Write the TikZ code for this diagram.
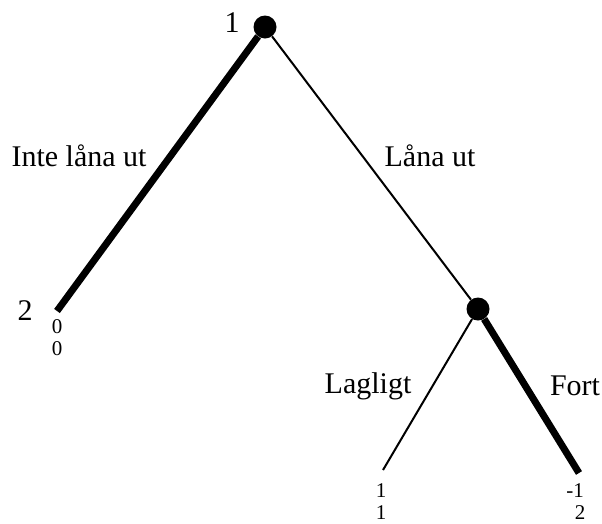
\documentclass[tikz,border=0pt]{standalone}
\usepackage{fontspec}
\setmainfont{Liberation Serif}
\usetikzlibrary{positioning}

\begin{document}
\begin{tikzpicture}[x=1pt,y=-1pt]
\useasboundingbox (0,0) rectangle (602,523);
\begin{scope}[every node/.style={circle,fill=black,inner sep=0pt,minimum size=23pt}]
    \node (1) at (265,27) {};
    \node (2) at (478,309) {};
\end{scope}
\coordinate (ut) at (57,311);
\coordinate (lag) at (383,470);
\coordinate (fort) at (579,473);
\begin{scope}[thin_edge/.style={draw=black,line width=2pt},
              thick_edge/.style={draw=black,line width=7pt}]
    \path (1) edge [thick_edge] (ut);
    \path (1) edge [thin_edge] (2);
    \path (2) edge [thin_edge] (lag);
    \path (2) edge [thick_edge] (fort);
\end{scope}
\begin{scope}[every node/.style={font=\fontsize{30}{32}\selectfont,inner sep=0pt}]
    \node (p1) at (232,23) {1};
    \node (p2) at (25,311) {2};
    \node (inte) at (79,156) {Inte låna ut};
    \node (lana) at (430,156) {Låna ut};
    \node (lagligt) at (368,386) {Lagligt};
    \node (fortlbl) at (575,386) {Fort};
\end{scope}
\begin{scope}[every node/.style={font=\fontsize{21}{21}\selectfont,inner sep=0pt}]
    \node (ut1) at (57,327) {0};
    \node (ut2) at (57,349) {0};
    \node (lag1) at (381,491) {1};
    \node (lag2) at (381,513) {1};
    \node (fort1) at (575,491) {-1};
    \node (fort2) at (580,513) {2};
\end{scope}
\end{tikzpicture}
\end{document}
